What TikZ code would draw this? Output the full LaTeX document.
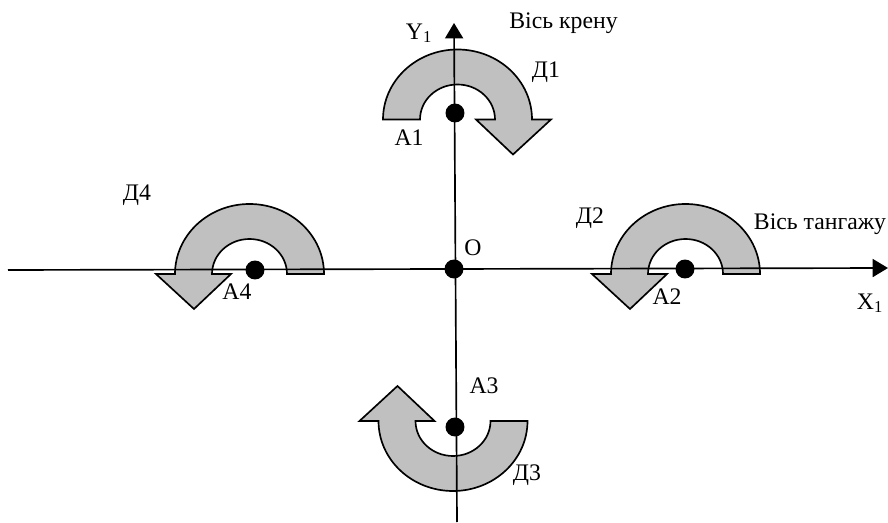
\documentclass[tikz,border=0pt]{standalone}
\usepackage{fontspec}
\setmainfont{Liberation Serif}
\usepackage{xcolor}
\usetikzlibrary{arrows.meta}
\definecolor{rotorgray}{HTML}{C0C0C0}
\tikzset{
  axisline/.style={black, -{Triangle[length=11.5pt,width=13.5pt]}, line width=1.25pt},
  rotorarrow/.style={draw=black, fill=rotorgray, line width=1.25pt, line join=miter},
  point/.style={circle, fill=black, inner sep=0pt, minimum size=14.2pt},
  labelnode/.style={inner sep=0pt, font=\fontsize{17.8}{20}\selectfont}
}
\begin{document}
\begin{tikzpicture}[x=0.75pt,y=-0.75pt]
  \useasboundingbox (0,0) rectangle (888,523);
  \foreach \cx/\by/\sx/\sy in {457.5/119.5/-1/1,685.5/274/1/1,249.5/274/1/1,453/421/1/-1}{
    \begin{scope}[shift={(\cx,\by)},xscale=\sx,yscale=\sy]
      \draw[rotorarrow] (-74.5,0) arc[start angle=180,end angle=360,x radius=74.5,y radius=70]
        -- (37.5,0) arc[start angle=360,end angle=180,x radius=37.5,y radius=35]
        -- (-18.5,0) -- (-55.5,35) -- (-93.5,0) -- cycle;
    \end{scope}
  }
  \coordinate (xstart) at (8,270);
  \coordinate (xend) at (888,268);
  \coordinate (ystart) at (457,522);
  \coordinate (yend) at (454,23);
  \draw[axisline] (xstart) -- (xend);
  \draw[axisline] (ystart) -- (yend);
  \node[point] (A1) at (455,113) {};
  \node[point] (A2) at (685,269) {};
  \node[point] (A3) at (455,427) {};
  \node[point] (A4) at (255,270) {};
  \node[point] (O) at (454,269) {};
  \node[labelnode] (rollaxis) at (563.5,23) {Вісь крену};
  \node[labelnode] (pitchaxis) at (820,224) {Вісь тангажу};
  \node[labelnode] (Y1) at (419,33) {Y\textsubscript{1}};
  \node[labelnode] (X1) at (870,303) {X\textsubscript{1}};
  \node[labelnode] (lblO) at (473,248) {О};
  \node[labelnode] (D1) at (546,72) {Д1};
  \node[labelnode] (D2) at (590,218) {Д2};
  \node[labelnode] (D3) at (527,475) {Д3};
  \node[labelnode] (D4) at (137,195) {Д4};
  \node[labelnode] (lblA1) at (409,138) {А1};
  \node[labelnode] (lblA2) at (667,297) {А2};
  \node[labelnode] (lblA3) at (484,386) {А3};
  \node[labelnode] (lblA4) at (237,292) {А4};
\end{tikzpicture}
\end{document}
